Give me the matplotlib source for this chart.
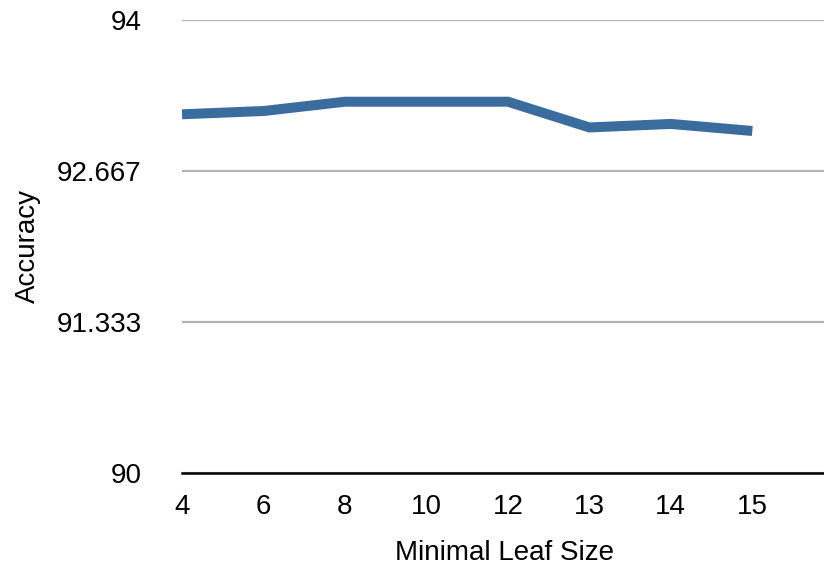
import matplotlib
matplotlib.use("Agg")
import matplotlib.pyplot as plt

# leaf sizes (categorical) and accuracy
leaf_sizes = ["4", "6", "8", "10", "12", "13", "14", "15"]
accuracy = [93.164, 93.193, 93.275, 93.275, 93.275, 93.048, 93.079, 93.017]
y_ticks = [90, 91.333, 92.667, 94]
y_tick_labels = ["90", "91.333", "92.667", "94"]

plt.rcParams['font.family'] = ['Liberation Sans', 'DejaVu Sans']

fig = plt.figure(figsize=(8.24, 5.69), dpi=100)
ax = fig.add_axes([0.2209, 0.1687, 0.7791, 0.797])

x = list(range(len(leaf_sizes)))
ax.plot(x, accuracy, color='#3b6c9e', linewidth=7.2, solid_capstyle='butt',
        solid_joinstyle='miter', zorder=3)

ax.set_ylim(90, 94)
ax.set_xlim(0, 7.88)
ax.set_yticks(y_ticks)
ax.set_yticklabels(y_tick_labels)
ax.set_xticks(x)
ax.set_xticklabels(leaf_sizes)

ax.grid(axis='y', color='#b3b3b3', linewidth=1.6, zorder=1)
ax.set_axisbelow(True)
for s in ['top', 'right', 'left']:
    ax.spines[s].set_visible(False)
ax.spines['bottom'].set_color('black')
ax.spines['bottom'].set_linewidth(1.8)
ax.spines['bottom'].set_zorder(2)

ax.tick_params(axis='both', length=0, labelsize=20)
ax.tick_params(axis='y', pad=29)
ax.tick_params(axis='x', pad=15)

ax.set_xlabel("Minimal Leaf Size", fontsize=20, va='center')
ax.set_ylabel("Accuracy", fontsize=20, va='center')
ax.xaxis.set_label_coords(0.503, -0.176)
ax.yaxis.set_label_coords(-0.2407, 0.5006)

fig.savefig("out.png", dpi=100)
